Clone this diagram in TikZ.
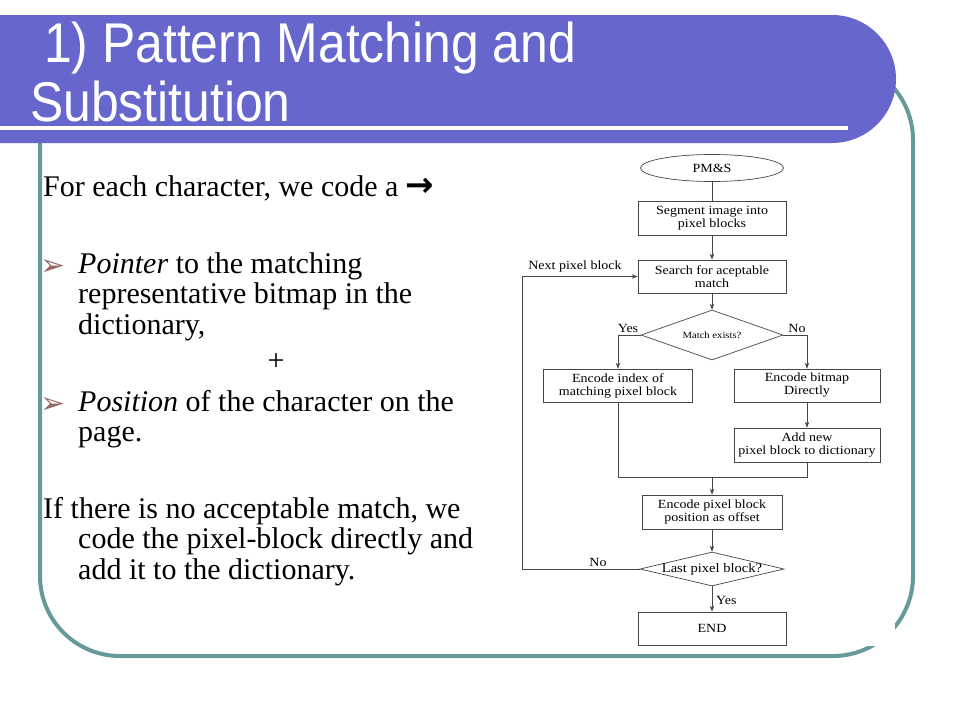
\documentclass[tikz,border=0pt]{standalone}
\usepackage{fontspec}
\setmainfont{Liberation Serif}
\newfontfamily\titlefont{Liberation Sans}[FakeStretch=0.89]
\newfontfamily\chartfont{Liberation Serif}[FakeStretch=1.12]
\newfontfamily\symfont{DejaVu Sans}
\usetikzlibrary{arrows.meta, shapes.geometric, positioning}
\definecolor{titleblue}{RGB}{102,102,204}
\definecolor{frameteal}{RGB}{102,153,153}
\definecolor{bulletred}{RGB}{153,102,102}
\definecolor{chartgray}{RGB}{70,70,70}
\tikzset{>={Stealth[length=6pt,width=4.5pt]}}
\tikzset{
  titletext/.style={text=white, inner sep=0pt, font=\titlefont\fontsize{56}{56}\selectfont},
  body/.style={inner sep=0pt, align=left, font=\fontsize{30}{30.5}\selectfont},
  bullet/.style={inner sep=0pt, anchor=base west, text=bulletred, font=\symfont\fontsize{30}{30}\selectfont},
  box/.style={draw=chartgray, line width=0.7pt, minimum width=148pt, minimum height=34pt,
    inner sep=0pt, align=center, font=\chartfont\fontsize{12.5}{13}\selectfont},
  dec/.style={diamond, draw=chartgray, line width=0.7pt, inner sep=0pt, font=\chartfont\fontsize{13}{13}\selectfont},
  term/.style={ellipse, draw=chartgray, line width=0.7pt, minimum width=143pt, minimum height=27pt,
    inner sep=0pt, font=\chartfont\fontsize{12.5}{13}\selectfont},
  lbl/.style={inner sep=0pt, font=\chartfont\fontsize{12.5}{13}\selectfont},
  link/.style={draw=chartgray, line width=0.7pt}
}
\begin{document}
\begin{tikzpicture}[x=1pt, y=-1pt]
\useasboundingbox (0,0) rectangle (960,720);
% slide frame and title bar
\draw[frameteal, line width=4pt, rounded corners=80pt] (40,60) rectangle (913,656);
\fill[white] (515,145) rectangle (895,646);
\fill[titleblue] (0,15) -- (832,15) arc[start angle=-90, end angle=90, radius=64] -- (0,143) -- cycle;
\draw[white, line width=4pt] (0,128) -- (848,128);
\node[titletext, anchor=base west] (title1) at (44,62) {1) Pattern Matching and};
\node[titletext, anchor=base west] (title2) at (30,121) {Substitution};

% left text
\node[body, anchor=base west] (intro) at (43,196) {For each character, we code a {\symfont\bfseries\fontsize{34}{34}\selectfont →}};
\node[bullet] (b1) at (40,275) {➢};
\node[body, anchor=north west] (ptr) at (78,252) {\textit{Pointer} to the matching\\representative bitmap in the\\dictionary,};
\node[body] (plus) at (276,362) {+};
\node[bullet] (b2) at (40,413) {➢};
\node[body, anchor=north west] (posn) at (78,390) {\textit{Position} of the character on the\\page.};
\node[body, anchor=north west] (nomatch) at (43,497) {If there is no acceptable match, we\\\hspace*{35pt}code the pixel-block directly and\\\hspace*{35pt}add it to the dictionary.};

% flowchart
\node[term] (start) at (712,168) {PM\&S};
\node[box] (seg) at (712,218) {Segment image into\\pixel blocks};
\node[box, minimum height=33pt] (search) at (712,276.5) {Search for aceptable\\match};
\node[dec, minimum width=142pt, minimum height=50pt] (match) at (712,335) {\makebox[0pt]{\fontsize{9.5}{10}\selectfont Match exists?}};
\node[box, minimum width=149pt, minimum height=33pt] (idx) at (618,385.5) {Encode index of\\matching pixel block};
\node[box, minimum width=146pt, minimum height=33pt] (bmp) at (807,385.5) {Encode bitmap\\Directly};
\node[box, minimum width=146pt] (add) at (807,445) {Add new\\pixel block to dictionary};
\node[box, minimum width=140pt] (pos) at (712,512) {Encode pixel block\\position as offset};
\node[dec, minimum width=144pt, minimum height=34pt] (last) at (712,569) {\makebox[0pt]{Last pixel block?}};
\node[box, minimum height=33pt] (end) at (712,628.5) {END};
\coordinate (join) at (712,477);
\coordinate (back) at (522,276.5);

\draw[link] (start) -- (seg);
\draw[link,->] (seg) -- (search);
\draw[link,->] (search) -- (match);
\draw[link,->] (match.west) -| (idx.north);
\draw[link,->] (match.east) -| (bmp.north);
\draw[link,->] (bmp) -- (add);
\draw[link] (idx.south) |- (join);
\draw[link] (add.south) |- (join);
\draw[link,->] (join) -- (pos);
\draw[link,->] (pos) -- (last);
\draw[link,->] (last) -- (end);
\draw[link,->] (last.west) -| (back) -- (search.west);

\node[lbl] (yes1) at (628,328) {Yes};
\node[lbl] (no1) at (797,328) {No};
\node[lbl] (nextlbl) at (575,266) {Next pixel block};
\node[lbl] (no2) at (598,562) {No};
\node[lbl, anchor=west] (yes2) at (716,600) {Yes};
\end{tikzpicture}
\end{document}
